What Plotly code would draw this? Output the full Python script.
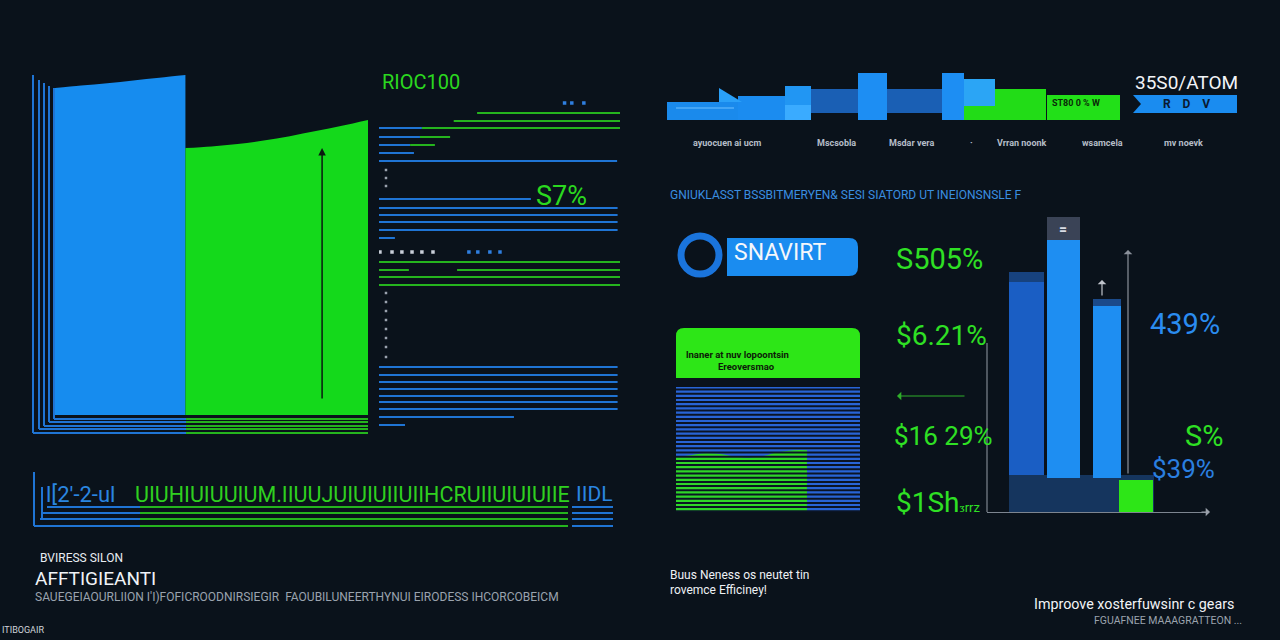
import plotly.graph_objects as go

W, H = 1280, 640
BG = "#0a121b"
BLUE = "#168cef"
GREEN = "#14d91b"
LBLUE = "#1f74d4"
LGREEN = "#25b41e"
FONT = "Roboto"

# ---------------- data ----------------
# left area chart (blue period / green period)
area_blue_x = [0, 1, 2, 3, 4, 5]
area_blue_y = [96.2, 96.9, 97.6, 98.4, 99.2, 100]
area_green_x = [5, 6, 7, 8, 9, 10, 11, 12]
area_green_y = [78.5, 79.0, 79.7, 80.7, 82.0, 83.5, 85.1, 86.8]

# list panel: row positions and segment lengths (% of panel width)
blue_rows = [128, 137, 145, 153, 161, 199, 208, 215, 222, 230, 238,
             367, 375, 382, 389, 396, 402, 409, 417, 425]
blue_len = [17.8, 17, 12.9, 14.5, 98.8, 63, 99, 99, 99, 99, 6.6,
            99, 99, 99, 99, 99, 99, 99, 56, 10.8]
green_rows = [113, 121, 128, 137, 145, 262, 270, 270, 277, 285]
green_start = [40.7, 31, 17.8, 17, 12.9, 0, 0, 32.4, 0, 0]
green_end = [100, 100, 100, 29.5, 23.2, 100, 12.4, 100, 100, 100]
dot_rows_white = [252] * 6
dot_x_white = [0.4, 5.4, 9.5, 13.7, 17.8, 22.4]
dot_rows_blue = [252, 252, 252, 252, 103, 103, 103]
dot_x_blue = [37.3, 41, 46, 50.2, 77, 80, 85]
tick_rows = [170, 178, 186, 293, 302, 311, 320, 329, 338, 347, 357]

# top step strip
strip_start = [7, 78, 125, 125, 151, 198, 227, 282, 304, 304, 335, 387, 473]
strip_end = [78, 125, 151, 151, 198, 227, 282, 304, 335, 335, 386, 460, 577]
strip_base = [0, 0, 0, 0, 7, 0, 7, 0, 14, 0, 0, 0, 7]
strip_top = [18, 24, 34, 15, 31, 47, 31, 47, 41, 14, 31, 25, 25]
strip_colors = ["#1a8aec", "#1b8cf0", "#2196f3", "#3aabff", "#1a5fb4", "#1d8ef3",
                "#1a5fb4", "#1d8ef3", "#2ba5f5", "#22dc17", "#22dc17", "#22e018", "#1a8cf0"]
strip_labels = ["ayuocuen ai ucm", "Mscsobla", "Msdar vera", "·", "Vrran noonk", "wsamcela", "mv noevk"]

# right bar chart
bar_body_bottom = [37, 34, 34]
bar_body_top = [230, 272, 206]
bar_cap_top = [240, 295, 213]
bar_base_height = 37
bar_green_height = 32

# green wave panel
wave_x = [0, 8, 16, 24, 32, 40, 48, 56, 64, 71.2]
wave_y = [44, 45.5, 47, 46.5, 44.5, 43.5, 45, 48, 49.5, 49.5]

# ---------------- helpers ----------------
def X(p):
    return p / W


def Y(p):
    return 1 - p / H


annotations = []
shapes = []


def txt(x, y, s, size, color, family=FONT, anchor="left", weight="normal"):
    annotations.append(dict(x=X(x), y=Y(y), xref="paper", yref="paper", text=s,
                            showarrow=False, xanchor=anchor, yanchor="middle",
                            font=dict(size=size, color=color, family=family, weight=weight)))


def hline(x0, x1, y, color, w=2):
    shapes.append(dict(type="line", xref="paper", yref="paper", x0=X(x0), x1=X(x1),
                       y0=Y(y), y1=Y(y), line=dict(color=color, width=w)))


def vline(x, y0, y1, color, w=2):
    shapes.append(dict(type="line", xref="paper", yref="paper", x0=X(x), x1=X(x),
                       y0=Y(y0), y1=Y(y1), line=dict(color=color, width=w)))


def rrect(x0, y0, x1, y1, r, color, top_only=False, layer="below"):
    if top_only:
        path = (f"M {X(x0)},{Y(y1)} L {X(x0)},{Y(y0 + r)} Q {X(x0)},{Y(y0)} {X(x0 + r)},{Y(y0)} "
                f"L {X(x1 - r)},{Y(y0)} Q {X(x1)},{Y(y0)} {X(x1)},{Y(y0 + r)} L {X(x1)},{Y(y1)} Z")
    else:
        path = (f"M {X(x0)},{Y(y0)} L {X(x1 - r)},{Y(y0)} Q {X(x1)},{Y(y0)} {X(x1)},{Y(y0 + r)} "
                f"L {X(x1)},{Y(y1 - r)} Q {X(x1)},{Y(y1)} {X(x1 - r)},{Y(y1)} L {X(x0)},{Y(y1)} Z")
    shapes.append(dict(type="path", xref="paper", yref="paper", path=path,
                       fillcolor=color, line=dict(width=0), layer=layer))


fig = go.Figure()

# ---------------- left area chart ----------------
fig.add_trace(go.Scatter(x=area_blue_x, y=area_blue_y, fill="tozeroy", fillcolor=BLUE,
                         mode="lines", line=dict(width=0, shape="spline"), xaxis="x", yaxis="y"))
fig.add_trace(go.Scatter(x=area_green_x, y=area_green_y, fill="tozeroy", fillcolor=GREEN,
                         mode="lines", line=dict(width=0, shape="spline"), xaxis="x", yaxis="y"))
annotations.append(dict(x=10.24, y=78.5, xref="x", yref="y", ax=10.24, ay=4.4, axref="x", ayref="y",
                        showarrow=True, arrowhead=2, arrowsize=1, arrowwidth=1.5, arrowcolor="#0a1a10", text=""))

for xv, yt, yb in zip([33, 39, 44, 49, 54], [75, 80, 83, 86, 88], [433, 429, 426, 422, 419]):
    vline(xv, yt, yb, LBLUE, 2)
    hline(xv, 186, yb, LBLUE, 2)
    hline(186, 368, yb, LGREEN, 2)

# ---------------- list panel ----------------
bx, by = [], []
for r, l in zip(blue_rows, blue_len):
    bx += [0, l, None]
    by += [r, r, None]
gx, gy = [], []
for r, s, e in zip(green_rows, green_start, green_end):
    gx += [s, e, None]
    gy += [r, r, None]
fig.add_trace(go.Scatter(x=bx, y=by, mode="lines", line=dict(color=LBLUE, width=2), xaxis="x2", yaxis="y2"))
fig.add_trace(go.Scatter(x=gx, y=gy, mode="lines", line=dict(color=LGREEN, width=2), xaxis="x2", yaxis="y2"))
fig.add_trace(go.Scatter(x=dot_x_white, y=dot_rows_white, mode="markers",
                         marker=dict(size=3.5, color="#c8ced8", symbol="square"), xaxis="x2", yaxis="y2"))
fig.add_trace(go.Scatter(x=dot_x_blue, y=dot_rows_blue, mode="markers",
                         marker=dict(size=3.5, color="#2f7fe0", symbol="square"), xaxis="x2", yaxis="y2"))
fig.add_trace(go.Scatter(x=[2.9] * len(tick_rows), y=tick_rows, mode="markers",
                         marker=dict(size=2.5, color="#9aa2ae", symbol="square"), xaxis="x2", yaxis="y2"))

txt(380, 82, "RIOC100", 20, "#2bd81f")
txt(534, 196, "S7%", 27, "#2bd81f")

# ---------------- barcode strip ----------------
txt(44, 494, "l[2'-2-ul", 22, "#2a86e0")
txt(133, 494, "UIUHIUIUUIUM.IIUUJUIUIUIIUIIHCRUIIUIUIUIIE", 21.5, "#2fd01f")
txt(574, 494, "IIDL", 21, "#2a86e0")
vline(34, 472, 526, LBLUE, 2)
vline(42, 487, 520, LBLUE, 2)
for x0, yy in zip([47, 43, 40, 34], [507, 513, 519, 526]):
    hline(x0, 140, yy, LBLUE, 2)
    hline(140, 568, yy, LGREEN, 2)
    hline(572, 613, yy, LBLUE, 2)

txt(38, 558, "BVIRESS SILON", 12, "#e8ecf2")
txt(33, 578, "AFFTIGIEANTI", 19, "#f0f3f7")
txt(33, 597, "SAUEGEIAOURLIION I'I)FOFICROODNIRSIEGIR  FAOUBILUNEERTHYNUI EIRODESS IHCORCOBEICM",
    12, "#9aa3ae")
txt(0, 630, "ITIBOGAIR", 9, "#d0d4da")

# ---------------- top strip ----------------
sc = [(s + e) / 2 for s, e in zip(strip_start, strip_end)]
sw = [e - s for s, e in zip(strip_start, strip_end)]
sh = [t - b for t, b in zip(strip_top, strip_base)]
fig.add_trace(go.Bar(x=sc, y=sh, base=strip_base, width=sw, marker=dict(color=strip_colors, line=dict(width=0)),
                     xaxis="x3", yaxis="y3"))
fig.add_trace(go.Scatter(x=[59, 59, 82, 59], y=[18, 32, 18, 18], fill="toself", fillcolor="#2aa0f8",
                         mode="lines", line=dict(width=0), xaxis="x3", yaxis="y3"))
fig.add_trace(go.Scatter(x=[473, 481, 473], y=[25, 16, 7], fill="toself", fillcolor=BG,
                         mode="lines", line=dict(width=0), xaxis="x3", yaxis="y3"))
hline(676, 734, 108, "#6fc0ff", 1)
txt(1050, 103, "ST80 0 % W", 9, "#0a2a08", weight="bold")
txt(1133, 82, "35S0/ATOM", 19, "#f2f4f8")
txt(1186, 104, "R    D    V", 12, "#0a1a30", anchor="center", weight="bold")
for lab, xx in zip(strip_labels, [691, 815, 887, 968, 995, 1080, 1162]):
    txt(xx, 143, lab, 9, "#b5bdc8", weight="bold")
txt(668, 195, "GNIUKLASST BSSBITMERYEN& SESI SIATORD UT INEIONSNSLE F", 12, "#3a8ee0")

# ---------------- SNAVIRT badge ----------------
shapes.append(dict(type="circle", xref="paper", yref="paper", x0=X(681), x1=X(719), y0=Y(274), y1=Y(236),
                   line=dict(color="#1a74dc", width=7)))
rrect(727, 238, 858, 276, 9, "#1a8cf0")
txt(732, 253, "SNAVIRT", 23, "#f4f7fb")

# ---------------- green box + wave panel ----------------
rrect(676, 328, 860, 378, 8, "#2de617", top_only=True)
txt(684, 354, "lnaner at nuv lopoontsin", 9.5, "#0c1a08", weight="bold")
txt(716, 366, "Ereoversmao", 9.5, "#0c1a08", weight="bold")
shapes.append(dict(type="rect", xref="paper", yref="paper", x0=X(676), x1=X(860), y0=Y(512), y1=Y(387),
                   fillcolor="#2864d6", line=dict(width=0), layer="below"))
fig.add_trace(go.Scatter(x=wave_x, y=wave_y, fill="tozeroy", fillcolor="#2fd628", mode="lines",
                         line=dict(width=0, shape="spline"), xaxis="x5", yaxis="y5"))
yy = 389.5
while yy < 512:
    hline(676, 860, yy, "#0b1424", 2)
    yy += 4.2

# ---------------- right bars ----------------
fig.add_trace(go.Bar(x=[94.5], y=[bar_base_height], base=[0], width=[145],
                     marker=dict(color="#15355e", line=dict(width=0)), xaxis="x4", yaxis="y4"))
fig.add_trace(go.Bar(x=[39.5, 76.5, 120], y=[t - b for t, b in zip(bar_body_top, bar_body_bottom)],
                     base=bar_body_bottom, width=[35, 33, 28],
                     marker=dict(color=["#1a5ec4", "#1e8ef2", "#1e8ef2"], line=dict(width=0)),
                     xaxis="x4", yaxis="y4"))
fig.add_trace(go.Bar(x=[39.5, 76.5, 120], y=[c - t for c, t in zip(bar_cap_top, bar_body_top)],
                     base=bar_body_top, width=[35, 33, 28],
                     marker=dict(color=["#17427e", "#3a4356", "#1b4a8a"], line=dict(width=0)),
                     xaxis="x4", yaxis="y4"))
fig.add_trace(go.Bar(x=[149], y=[bar_green_height], base=[0], width=[34],
                     marker=dict(color="#2de617", line=dict(width=0)), xaxis="x4", yaxis="y4"))
txt(1063, 229, "=", 14, "#d8dce4", anchor="center", weight="bold")
vline(987, 343, 512, "#7d8590", 1.2)
annotations.append(dict(x=X(1210), y=Y(512), xref="paper", yref="paper", ax=-10, ay=0, showarrow=True,
                        arrowhead=1, arrowsize=1.2, arrowwidth=1.2, arrowcolor="#9aa0aa", text=""))
annotations.append(dict(x=X(1128), y=Y(250), xref="paper", yref="paper", ax=0, ay=225, showarrow=True,
                        arrowhead=1, arrowsize=1.2, arrowwidth=1.2, arrowcolor="#8a909a", text=""))
annotations.append(dict(x=X(1102), y=Y(280), xref="paper", yref="paper", ax=0, ay=17, showarrow=True,
                        arrowhead=1, arrowsize=1.2, arrowwidth=1.2, arrowcolor="#c0c4cc", text=""))
annotations.append(dict(x=X(897), y=Y(396), xref="paper", yref="paper", ax=69, ay=0, showarrow=True,
                        arrowhead=1, arrowsize=1.2, arrowwidth=1.2, arrowcolor="#2fae2a", text=""))

GT = "#2fe024"
txt(894, 259, "S505%", 29, GT)
txt(894, 335, "$6.21%", 28, GT)
txt(892, 436, "$16 29%", 26, GT)
txt(894, 502, "$1Sh<span style='font-size:13px'>ᴣrrz</span>", 28, GT)
txt(1148, 324, "439%", 29, "#2a8cf0")
txt(1183, 436, "S%", 29, GT)
txt(1150, 469, "$39%", 26, "#2a7fe0")

# ---------------- bottom texts ----------------
txt(668, 575, "Buus Neness os neutet tin", 12, "#eef1f5")
txt(668, 590, "rovemce Efficiney!", 12, "#eef1f5")
txt(1032, 604, "Improove xosterfuwsinr c gears", 14.3, "#f2f4f7")
txt(1092, 620, "FGUAFNEE MAAAGRATTEON ...", 10.5, "#9ba3ad")

# ---------------- layout ----------------
def ax(dom, rng, anchor, **kw):
    d = dict(domain=dom, range=rng, anchor=anchor, visible=False, fixedrange=True,
             showgrid=False, zeroline=False)
    d.update(kw)
    return d


fig.update_layout(
    width=W, height=H, margin=dict(l=0, r=0, t=0, b=0),
    paper_bgcolor=BG, plot_bgcolor="rgba(0,0,0,0)", showlegend=False, barmode="overlay",
    xaxis=ax([X(55), X(368)], [0, 12], "y"),
    yaxis=ax([Y(415), Y(75)], [0, 100], "x"),
    xaxis2=ax([X(379), X(620)], [0, 100], "y2"),
    yaxis2=ax([Y(432), Y(100)], [432, 100], "x2"),
    xaxis3=ax([X(660), X(1250)], [0, 590], "y3"),
    yaxis3=ax([Y(125), Y(68)], [-5, 52], "x3"),
    xaxis4=ax([X(987), X(1207)], [0, 220], "y4", visible=True, showline=True, linecolor="#7d8590",
              linewidth=1.2, showticklabels=False, ticks=""),
    yaxis4=ax([Y(512), Y(200)], [0, 312], "x4"),
    xaxis5=ax([X(676), X(860)], [0, 100], "y5"),
    yaxis5=ax([Y(512), Y(387)], [0, 100], "x5"),
    shapes=shapes, annotations=annotations,
)

fig.write_html("out.html")
